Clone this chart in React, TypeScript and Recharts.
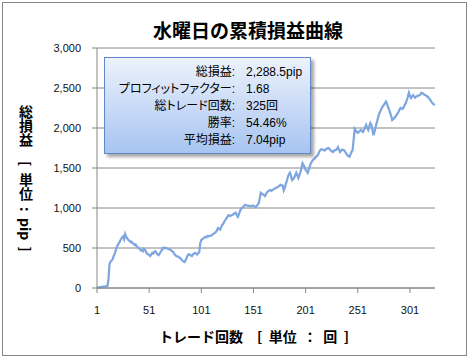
import React from "react";
import { LineChart, Line, XAxis, YAxis, CartesianGrid } from "recharts";

// cumulative profit per trade (pip)
const pnl: number[] = [
  0, 8, 5, 12, 15, 10, 18, 14, 20, 22,
  25, 110, 300, 330, 345, 360, 400, 430, 470, 510,
  540, 560, 585, 610, 630, 645, 610, 675, 640, 620,
  600, 590, 575, 580, 560, 555, 540, 545, 520, 510,
  500, 490, 470, 475, 460, 490, 480, 450, 430, 420,
  410, 400, 420, 440, 430, 455, 460, 440, 420, 410,
  430, 450, 470, 500, 495, 505, 500, 495, 490, 485,
  480, 470, 460, 450, 430, 410, 400, 395, 390, 380,
  370, 355, 340, 330, 325, 350, 380, 410, 420, 415,
  405, 400, 420, 430, 440, 430, 420, 435, 450, 560,
  600, 610, 620, 630, 640, 635, 650, 645, 650, 655,
  660, 670, 680, 690, 700, 720, 750, 740, 730, 760,
  790, 800, 830, 850, 870, 890, 910, 905, 900, 910,
  915, 925, 935, 940, 910, 890, 920, 960, 990, 1000,
  1010, 1025, 1040, 1035, 1030, 1030, 1025, 1020, 1025, 1030,
  1030, 1020, 1010, 1025, 1040, 1060, 1120, 1190, 1180, 1170,
  1160, 1150, 1175, 1195, 1210, 1220, 1225, 1215, 1225, 1230,
  1240, 1250, 1255, 1260, 1270, 1280, 1290, 1285, 1280, 1220,
  1250, 1300, 1340, 1390, 1420, 1440, 1400, 1350, 1360, 1380,
  1410, 1440, 1410, 1375, 1410, 1450, 1500, 1560, 1540, 1510,
  1475, 1460, 1440, 1480, 1520, 1560, 1580, 1600, 1610, 1625,
  1640, 1650, 1670, 1700, 1725, 1735, 1730, 1730, 1720, 1725,
  1740, 1745, 1750, 1735, 1720, 1710, 1700, 1710, 1725, 1725,
  1740, 1760, 1730, 1700, 1715, 1730, 1725, 1720, 1700, 1680,
  1660, 1650, 1640, 1670, 1700, 1725, 1850, 1990, 1970, 1950,
  1940, 1950, 1965, 1975, 1960, 1950, 1980, 2010, 2040, 2000,
  1975, 2020, 2060, 2040, 1980, 1910, 1950, 2010, 2060, 2110,
  2160, 2190, 2220, 2250, 2270, 2290, 2310, 2330, 2300, 2260,
  2230, 2190, 2150, 2100, 2110, 2125, 2140, 2160, 2180, 2200,
  2230, 2250, 2245, 2240, 2260, 2290, 2310, 2350, 2390, 2440,
  2400, 2375, 2395, 2410, 2390, 2380, 2395, 2400, 2405, 2410,
  2420, 2440, 2435, 2425, 2415, 2410, 2400, 2390, 2375, 2360,
  2340, 2320, 2305, 2295, 2288.5,
];

const yTicks = [0, 500, 1000, 1500, 2000, 2500, 3000];

const statLabels = ["総損益:", "プロフィットファクター:", "総トレード回数:", "勝率:", "平均損益:"];
const statValues = ["2,288.5pip", "1.68", "325回", "54.46%", "7.04pip"];

const title = "水曜日の累積損益曲線";
const xTitle = "トレード回数　[  単位  ：  回  ]";
const yTitle = "総損益　[  単位  :  pip  ]";

const data = pnl.map((v, i) => ({ trade: i + 1, pnl: v }));

const gray = "#868686";
const font = '"Liberation Sans", "Noto Sans CJK JP", sans-serif';
const cjkBold = '"Noto Sans CJK JP", sans-serif';

export default function App() {
  return (
    <div
      style={{
        position: "absolute",
        left: 0,
        top: 0,
        width: 470,
        height: 359,
        background: "#fff",
        fontFamily: font,
      }}
    >
      <div
        style={{
          position: "absolute",
          left: 2,
          top: 2,
          width: 465,
          height: 354,
          border: `1px solid ${gray}`,
          boxSizing: "border-box",
        }}
      />
      <LineChart
        width={470}
        height={359}
        data={data}
        margin={{ top: 48, right: 35, left: 37, bottom: 0 }}
      >
        <CartesianGrid vertical={false} stroke={gray} strokeWidth={1} />
        <XAxis
          dataKey="trade"
          interval={49}
          height={71}
          tickSize={5}
          tickMargin={13}
          stroke={gray}
          tick={{ fill: "#111", fontSize: 11, fontFamily: font }}
        />
        <YAxis
          domain={[0, 3000]}
          ticks={yTicks}
          width={60}
          tickSize={5}
          tickMargin={11}
          stroke={gray}
          tickFormatter={(v: number) => v.toLocaleString("en-US")}
          tick={{ fill: "#111", fontSize: 11, fontFamily: font }}
        />
        <Line
          type="linear"
          dataKey="pnl"
          stroke="#7ea6e0"
          strokeWidth={2.25}
          dot={false}
          isAnimationActive={false}
        />
      </LineChart>

      <div
        style={{
          position: "absolute",
          left: 138,
          top: 20,
          width: 220,
          textAlign: "center",
          fontFamily: cjkBold,
          fontWeight: 700,
          fontSize: 19,
          lineHeight: "19px",
          color: "#000",
        }}
      >
        {title}
      </div>

      <div
        style={{
          position: "absolute",
          left: 154,
          top: 329,
          width: 200,
          textAlign: "center",
          fontFamily: cjkBold,
          fontWeight: 700,
          fontSize: 14,
          lineHeight: "14px",
          whiteSpace: "pre",
          color: "#000",
        }}
      >
        {xTitle}
      </div>

      <div
        style={{
          position: "absolute",
          left: 19,
          top: 105,
          height: 170,
          writingMode: "vertical-rl",
          fontFamily: cjkBold,
          fontWeight: 700,
          fontSize: 14,
          lineHeight: "14px",
          whiteSpace: "pre",
          color: "#000",
        }}
      >
        {yTitle}
      </div>

      <div
        style={{
          position: "absolute",
          left: 104,
          top: 57,
          width: 207,
          height: 97,
          boxSizing: "border-box",
          border: "1px solid #5f89c7",
          background: "linear-gradient(#edf2fc, #a7c4f1)",
          boxShadow: "3px 3px 3px rgba(0,0,0,0.35)",
          paddingTop: 6,
        }}
      >
        {statLabels.map((label, i) => (
          <div
            key={label}
            style={{
              display: "flex",
              height: 17,
              lineHeight: "17px",
              fontSize: 12,
              color: "#000",
              fontFeatureSettings: '"palt"',
            }}
          >
            <span style={{ width: 130, textAlign: "right", whiteSpace: "nowrap" }}>{label}</span>
            <span style={{ marginLeft: 11, whiteSpace: "nowrap" }}>{statValues[i]}</span>
          </div>
        ))}
      </div>
    </div>
  );
}
